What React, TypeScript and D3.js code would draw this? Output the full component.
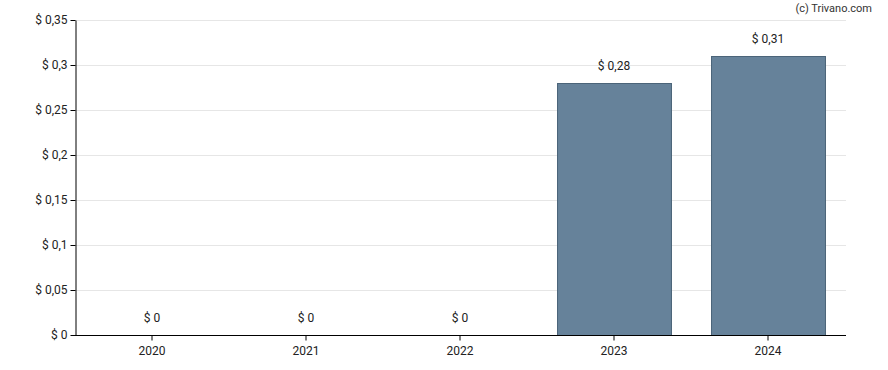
import React, { useEffect, useRef } from 'react';
import * as d3 from 'd3';

const years = ['2020', '2021', '2022', '2023', '2024'];
const dividends = [0, 0, 0, 0.28, 0.31];
const yTicks = [0, 0.05, 0.1, 0.15, 0.2, 0.25, 0.3, 0.35];

const fmt = (v: number) => '$ ' + String(+v.toFixed(2)).replace('.', ',');

const App: React.FC = () => {
    const svgRef = useRef<SVGSVGElement>(null);

    useEffect(() => {
        d3.select(svgRef.current).selectAll('*').remove();

        const width = 888;
        const height = 370;
        const margin = { top: 20, right: 43, bottom: 35, left: 75 };
        const innerW = width - margin.left - margin.right;
        const innerH = height - margin.top - margin.bottom;

        const root = d3.select(svgRef.current)
            .attr('width', width)
            .attr('height', height)
            .style('font-family', 'Roboto, sans-serif');

        const svg = root.append('g')
            .attr('transform', `translate(${margin.left},${margin.top})`);

        const x = d3.scaleBand()
            .domain(years)
            .range([0, innerW])
            .paddingInner(0.26)
            .paddingOuter(0.13);

        const y = d3.scaleLinear()
            .domain([0, 0.35])
            .range([innerH, 0]);

        // Grid
        svg.append('g')
            .selectAll('line')
            .data(yTicks.slice(1))
            .enter()
            .append('line')
            .attr('x1', 0)
            .attr('x2', innerW + 1)
            .attr('y1', d => Math.round(y(d)) + 0.5)
            .attr('y2', d => Math.round(y(d)) + 0.5)
            .attr('stroke', '#e6e6e6');

        // Bars
        const data = years.map((yr, i) => ({ yr, v: dividends[i] }));
        svg.selectAll('rect.bar')
            .data(data.filter(d => d.v > 0))
            .enter()
            .append('rect')
            .attr('x', d => (x(d.yr) || 0) + 0.5)
            .attr('y', d => Math.round(y(d.v)) + 0.5)
            .attr('width', x.bandwidth())
            .attr('height', d => innerH - Math.round(y(d.v)))
            .attr('fill', '#66829a')
            .attr('stroke', '#4b6479')
            .attr('stroke-width', 1);

        // Value labels
        svg.selectAll('text.val')
            .data(data)
            .enter()
            .append('text')
            .attr('x', d => (x(d.yr) || 0) + x.bandwidth() / 2)
            .attr('y', d => y(d.v) - 13)
            .attr('text-anchor', 'middle')
            .style('font-size', '12px')
            .style('fill', '#222')
            .text(d => fmt(d.v));

        // Y axis
        const yAxis = svg.append('g')
            .attr('transform', 'translate(0.5,0)')
            .call(d3.axisLeft(y).tickValues(yTicks).tickSize(5).tickSizeOuter(0).tickFormat(d => fmt(+d)));
        yAxis.select('.domain').attr('stroke', '#000');
        yAxis.selectAll('line').attr('stroke', '#000');
        yAxis.selectAll('text')
            .style('font-size', '12px')
            .style('font-family', 'Roboto, sans-serif')
            .style('fill', '#222');

        // X axis
        const xAxis = svg.append('g')
            .attr('transform', `translate(0,${innerH + 0.5})`)
            .call(d3.axisBottom(x).tickSize(5).tickSizeOuter(0));
        xAxis.select('.domain').attr('stroke', '#000').attr('d', `M0,0H${innerW + 1}`);
        xAxis.selectAll('line').attr('stroke', '#000');
        xAxis.selectAll('text')
            .attr('dy', '0.95em')
            .style('font-size', '12px')
            .style('font-family', 'Roboto, sans-serif')
            .style('fill', '#222');

        // Credit
        root.append('text')
            .attr('x', 872)
            .attr('y', 12)
            .attr('text-anchor', 'end')
            .style('font-size', '11px')
            .style('fill', '#333')
            .text('(c) Trivano.com');
    }, []);

    return <svg ref={svgRef} style={{ display: 'block', position: 'absolute', left: 0, top: 0 }}></svg>;
};

export default App;
